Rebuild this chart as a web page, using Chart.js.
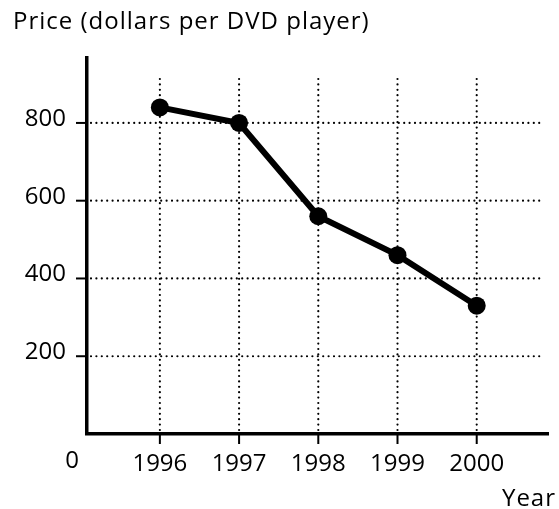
<!DOCTYPE html>
<html>
<head>
<meta charset="utf-8">
<script src="https://cdn.jsdelivr.net/npm/chart.js@4"></script>
<style>
  html, body { margin: 0; padding: 0; background: #fff; }
  #wrap { width: 559px; height: 509px; }
</style>
</head>
<body>
<div id="wrap"><canvas id="myChart"></canvas></div>
<script>
// DVD player prices by year
var years = [1996, 1997, 1998, 1999, 2000];
var prices = [840, 800, 560, 460, 330];
var priceTicks = [200, 400, 600, 800];

var FONT = '"Open Sans", "Noto Sans", sans-serif';

// dotted grid, tick marks and all labels, placed with the chart's own scales
var paperPlugin = {
    id: 'paper',
    beforeDatasetsDraw: function(chart) {
        var ctx = chart.ctx;
        var xs = chart.scales.x, ys = chart.scales.y;
        var area = chart.chartArea;
        var x0 = xs.getPixelForValue(xs.min), y0 = ys.getPixelForValue(0);

        ctx.save();
        ctx.strokeStyle = '#000';
        ctx.lineWidth = 2.2;
        ctx.lineCap = 'round';
        ctx.setLineDash([0, 5.4]);
        priceTicks.forEach(function(v) {
            var y = ys.getPixelForValue(v);
            ctx.beginPath();
            ctx.moveTo(x0 + 4, y);
            ctx.lineTo(area.right - 5, y);
            ctx.stroke();
        });
        years.forEach(function(v) {
            var x = xs.getPixelForValue(v);
            ctx.beginPath();
            ctx.moveTo(x, y0 - 4);
            ctx.lineTo(x, area.top + 18);
            ctx.stroke();
        });

        // solid tick marks outside the axes
        ctx.setLineDash([]);
        ctx.lineCap = 'butt';
        ctx.lineWidth = 2;
        priceTicks.forEach(function(v) {
            var y = ys.getPixelForValue(v);
            ctx.beginPath();
            ctx.moveTo(x0 - 11, y);
            ctx.lineTo(x0, y);
            ctx.stroke();
        });
        years.forEach(function(v) {
            var x = xs.getPixelForValue(v);
            ctx.beginPath();
            ctx.moveTo(x, y0);
            ctx.lineTo(x, y0 + 10);
            ctx.stroke();
        });

        // labels
        ctx.fillStyle = '#000';
        ctx.font = '500 24px ' + FONT;
        ctx.textBaseline = 'alphabetic';
        ctx.textAlign = 'right';
        priceTicks.forEach(function(v) {
            ctx.fillText(String(v), x0 - 21, ys.getPixelForValue(v) + 3);
        });
        ctx.textAlign = 'center';
        years.forEach(function(v) {
            ctx.fillText(String(v), xs.getPixelForValue(v), y0 + 37);
        });
        ctx.fillText('0', x0 - 15, y0 + 34);

        ctx.font = '500 24px ' + FONT;
        ctx.letterSpacing = '1px';
        ctx.textAlign = 'left';
        ctx.fillText('Price (dollars per DVD player)', 13, 29);
        ctx.textAlign = 'right';
        ctx.fillText('Year', 556, 506);
        ctx.restore();
    }
};

var ctx = document.getElementById('myChart').getContext('2d');
var myChart = new Chart(ctx, {
    type: 'line',
    data: {
        datasets: [{
            data: years.map(function(y, i) { return { x: y, y: prices[i] }; }),
            borderColor: '#000',
            backgroundColor: '#000',
            borderWidth: 6,
            pointRadius: 9,
            pointHoverRadius: 9,
            pointBorderWidth: 0,
            tension: 0
        }]
    },
    options: {
        responsive: true,
        maintainAspectRatio: false,
        animation: false,
        events: [],
        layout: { padding: { left: 87, right: 11, top: 58, bottom: 75 } },
        plugins: {
            legend: { display: false },
            tooltip: { enabled: false }
        },
        scales: {
            x: {
                type: 'linear',
                min: 1995.08,
                max: 2000.9,
                afterBuildTicks: function(scale) {
                    scale.ticks = years.map(function(v) { return { value: v }; });
                },
                ticks: { display: false },
                grid: { display: false, drawTicks: false },
                border: { display: true, color: '#000', width: 3.5 }
            },
            y: {
                min: 0,
                max: 967,
                afterBuildTicks: function(scale) {
                    scale.ticks = priceTicks.map(function(v) { return { value: v }; });
                },
                ticks: { display: false },
                grid: { display: false, drawTicks: false },
                border: { display: true, color: '#000', width: 3.5 }
            }
        }
    },
    plugins: [paperPlugin]
});
</script>
</body>
</html>
